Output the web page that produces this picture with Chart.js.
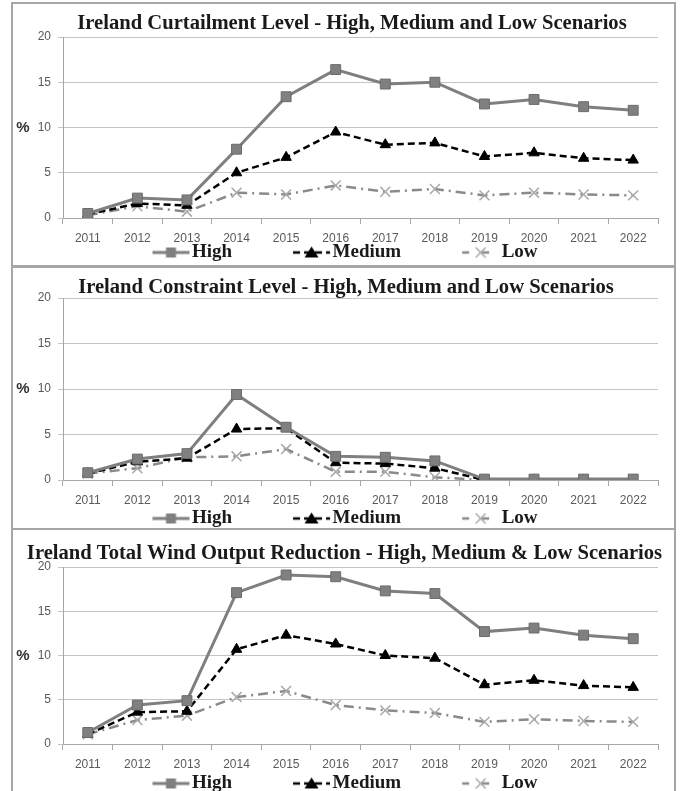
<!DOCTYPE html>
<html>
<head>
<meta charset="utf-8">
<title>Ireland curtailment / constraint scenarios</title>
<script src="https://cdn.jsdelivr.net/npm/chart.js"></script>
<style>
  html, body { margin: 0; padding: 0; overflow: hidden; background: #fff; }
  body { width: 680px; height: 791px; position: relative; }
  .panel { position: absolute; left: 11px; width: 661px; border: 2px solid #a6a6a6; }
  canvas { position: absolute; left: -30px; }
</style>
</head>
<body>
<div class="panel" style="top:2px;height:262px"></div>
<div class="panel" style="top:265px;height:261px"></div>
<div class="panel" style="top:528px;height:270px"></div>
<canvas id="curtailChart" width="710" height="272" style="top:0px"></canvas>
<canvas id="constraintChart" width="710" height="274" style="top:264px"></canvas>
<canvas id="totalChart" width="710" height="273" style="top:530px"></canvas>
<script>
// categories
const years = ['2011', '2012', '2013', '2014', '2015', '2016', '2017', '2018', '2019', '2020', '2021', '2022'];
const yTicks = [0, 5, 10, 15, 20];

// curtailment level (%)
const curtHigh = [0.5, 2.2, 2.0, 7.6, 13.4, 16.4, 14.8, 15.0, 12.6, 13.1, 12.3, 11.9];
const curtMedium = [0.4, 1.6, 1.4, 5.0, 6.7, 9.5, 8.1, 8.3, 6.8, 7.2, 6.6, 6.4];
const curtLow = [0.3, 1.3, 0.7, 2.8, 2.6, 3.6, 2.9, 3.2, 2.5, 2.8, 2.6, 2.5];

// constraint level (%)
const consHigh = [0.8, 2.3, 2.9, 9.4, 5.8, 2.6, 2.5, 2.1, 0.1, 0.1, 0.1, 0.1];
const consMedium = [0.7, 2.0, 2.4, 5.6, 5.7, 1.9, 1.8, 1.3, 0, 0, 0, 0];
const consLow = [0.7, 1.3, 2.5, 2.6, 3.4, 0.9, 0.9, 0.3, 0, 0, 0, 0];

// total wind output reduction (%)
const totalHigh = [1.3, 4.4, 4.9, 17.1, 19.1, 18.9, 17.3, 17.0, 12.7, 13.1, 12.3, 11.9];
const totalMedium = [1.1, 3.6, 3.7, 10.7, 12.3, 11.3, 10.0, 9.7, 6.7, 7.2, 6.6, 6.4];
const totalLow = [1.1, 2.7, 3.2, 5.3, 6.0, 4.4, 3.8, 3.5, 2.5, 2.8, 2.6, 2.5];

const seriesNames = ['High', 'Medium', 'Low'];

// legend icons: line sample + marker, drawn on a small canvas.
// the left part of each icon is blank, it spaces the legend items out
const ICON_BOX = 92;
const ICON_W = ICON_BOX + 16;
function makeIcon(kind) {
  const c = document.createElement('canvas');
  c.width = ICON_W;
  c.height = 20;
  const g = c.getContext('2d');
  const x0 = ICON_W - 38, x1 = ICON_W - 1, cx = ICON_W - 19.5, cy = 10;
  g.lineWidth = kind === 'High' ? 3 : 2.5;
  g.strokeStyle = kind === 'High' ? '#7f7f7f' : kind === 'Medium' ? '#000' : '#8a8a8a';
  if (kind === 'Medium') g.setLineDash([7, 4]);
  if (kind === 'Low') g.setLineDash([7, 13]);
  g.beginPath();
  g.moveTo(x0, cy);
  g.lineTo(x1, cy);
  g.stroke();
  g.setLineDash([]);
  if (kind === 'High') {
    g.fillStyle = '#7f7f7f';
    g.fillRect(cx - 5, cy - 5, 10, 10);
  } else if (kind === 'Medium') {
    g.fillStyle = '#000';
    g.beginPath();
    g.moveTo(cx, cy - 6);
    g.lineTo(cx + 7, cy + 5);
    g.lineTo(cx - 7, cy + 5);
    g.closePath();
    g.fill();
  } else {
    g.strokeStyle = '#a8a8a8';
    g.lineWidth = 1.5;
    g.beginPath();
    g.moveTo(cx - 5, cy - 5); g.lineTo(cx + 5, cy + 5);
    g.moveTo(cx + 5, cy - 5); g.lineTo(cx - 5, cy + 5);
    g.stroke();
  }
  return c;
}
const legendIcons = seriesNames.map(makeIcon);

// the "%" label beside the y axis
const percentLabel = {
  id: 'percentLabel',
  afterDraw(chart) {
    const {ctx, chartArea, scales} = chart;
    ctx.save();
    ctx.font = 'bold 15px "Liberation Sans"';
    ctx.fillStyle = '#333';
    ctx.textAlign = 'center';
    ctx.textBaseline = 'middle';
    ctx.fillText('%', chartArea.left - 40, scales.y.getPixelForValue(10));
    ctx.restore();
  }
};

// panel title, centred where the original sits (not on the plot area)
const panelTitle = {
  id: 'panelTitle',
  afterDraw(chart, args, opts) {
    const ctx = chart.ctx;
    ctx.save();
    ctx.font = 'bold 20.6px "Liberation Serif"';
    ctx.fillStyle = '#1a1a1a';
    ctx.textAlign = 'center';
    ctx.textBaseline = 'middle';
    ctx.fillText(opts.text, opts.x, opts.y);
    ctx.restore();
  }
};

function buildChart(id, titleText, titleX, high, medium, low, topPad, xAxisHeight) {
  const ctx = document.getElementById(id).getContext('2d');
  return new Chart(ctx, {
    type: 'line',
    data: {
      labels: years,
      datasets: [{
        label: seriesNames[0],
        data: high,
        borderColor: '#7f7f7f',
        borderWidth: 3,
        pointStyle: 'rect',
        pointRadius: 7,
        pointBackgroundColor: '#808080',
        pointBorderColor: '#6b6b6b',
        pointBorderWidth: 1
      }, {
        label: seriesNames[1],
        data: medium,
        borderColor: '#000',
        borderWidth: 2.5,
        borderDash: [7, 4],
        pointStyle: 'triangle',
        pointRadius: 6,
        pointBackgroundColor: '#000',
        pointBorderColor: '#000',
        pointBorderWidth: 1
      }, {
        label: seriesNames[2],
        data: low,
        borderColor: '#8a8a8a',
        borderWidth: 2.5,
        borderDash: [10, 5, 2, 5],
        pointStyle: 'crossRot',
        pointRadius: 7,
        pointBorderColor: '#a8a8a8',
        pointBorderWidth: 1.5
      }]
    },
    options: {
      responsive: false,
      animation: false,
      layout: { padding: { left: 0, right: 22, top: topPad, bottom: 0 } },
      elements: { line: { tension: 0, fill: false } },
      plugins: {
        tooltip: { enabled: false },
        title: { display: false },
        panelTitle: { text: titleText, x: titleX, y: 24 },
        legend: {
          position: 'bottom',
          labels: {
            usePointStyle: true,
            pointStyleWidth: ICON_BOX,
            padding: -1,
            color: '#1a1a1a',
            font: { family: 'Liberation Serif', size: 19, weight: 'bold' },
            generateLabels: (chart) => chart.data.datasets.map((ds, i) => ({
              text: ds.label,
              pointStyle: legendIcons[i],
              datasetIndex: i,
              hidden: false,
              lineWidth: 0,
              fillStyle: 'transparent',
              strokeStyle: 'transparent',
              fontColor: '#1a1a1a'
            }))
          }
        }
      },
      scales: {
        x: {
          offset: true,
          grid: {
            offset: true,
            drawOnChartArea: true,
            color: (c) => c.index === years.length ? '#c4c4c4' : 'rgba(0,0,0,0)',
            tickColor: '#a6a6a6',
            tickLength: 6
          },
          border: { color: '#a6a6a6' },
          ticks: {
            color: '#595959',
            padding: 8.5,
            maxRotation: 0,
            font: { family: 'Liberation Sans', size: 12, lineHeight: 1 }
          },
          afterFit: (s) => { s.height = xAxisHeight; }
        },
        y: {
          min: yTicks[0],
          max: yTicks[yTicks.length - 1],
          afterBuildTicks: (s) => { s.ticks = yTicks.map(v => ({ value: v })); },
          grid: { color: '#c4c4c4', tickLength: 5 },
          border: { color: '#a6a6a6' },
          ticks: {
            color: '#595959',
            padding: 7,
            font: { family: 'Liberation Sans', size: 12 }
          },
          afterFit: (s) => { s.width = 93; }
        }
      }
    },
    plugins: [percentLabel, panelTitle]
  });
}

buildChart('curtailChart', 'Ireland Curtailment Level - High, Medium and Low Scenarios', 382,
  curtHigh, curtMedium, curtLow, 37, 26);
buildChart('constraintChart', 'Ireland Constraint Level - High, Medium and Low Scenarios', 376,
  consHigh, consMedium, consLow, 34, 30);
buildChart('totalChart', 'Ireland Total Wind Output Reduction - High, Medium & Low Scenarios', 374.5,
  totalHigh, totalMedium, totalLow, 37, 31);
</script>
</body>
</html>
